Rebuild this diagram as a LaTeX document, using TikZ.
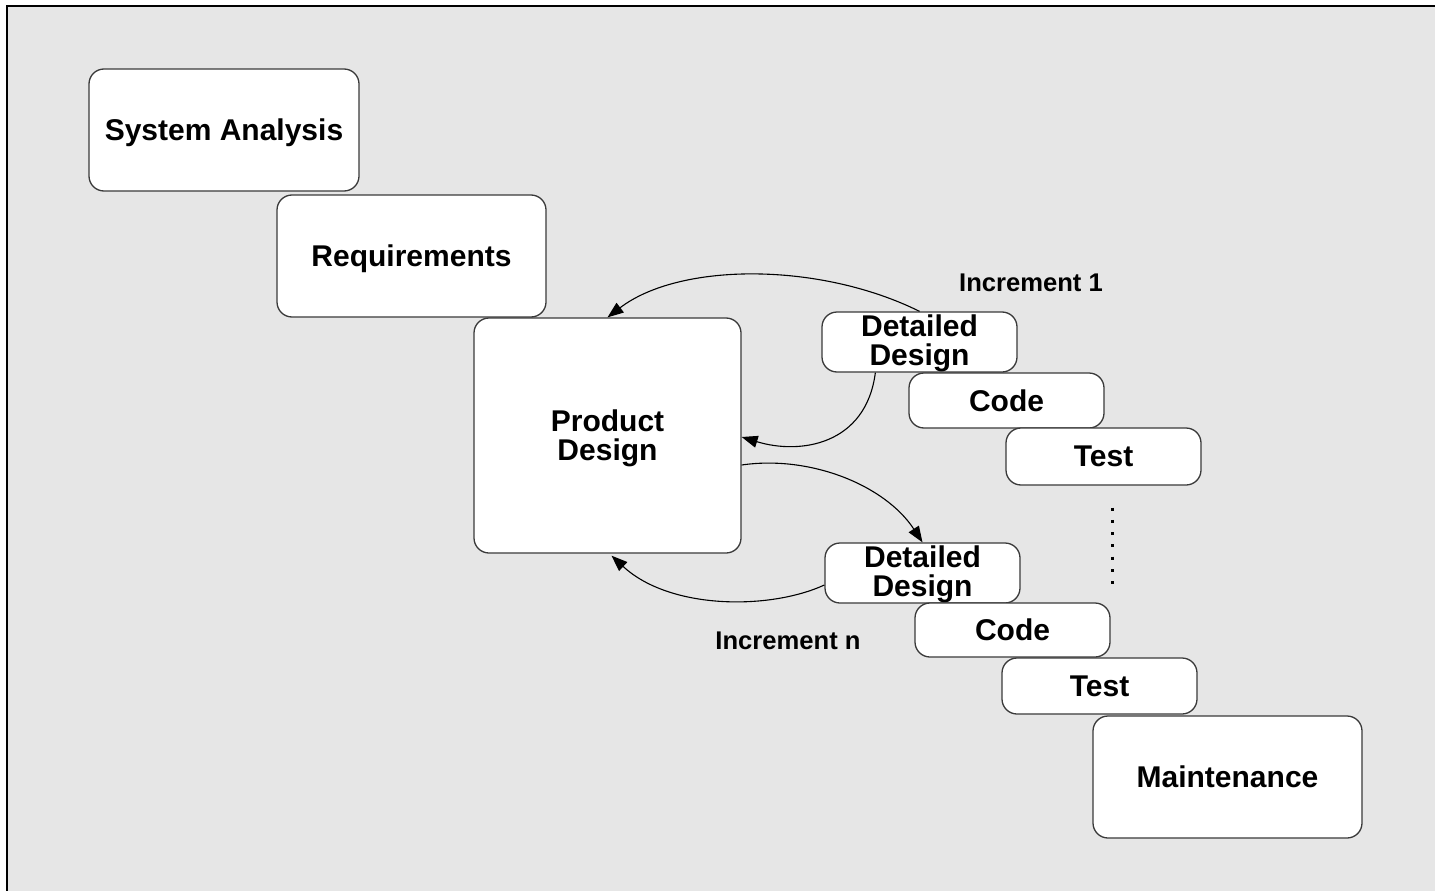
\documentclass[tikz,border=0pt]{standalone}
\usepackage{fontspec}
\setmainfont{Liberation Sans}
\usetikzlibrary{arrows.meta,calc}
\definecolor{bg}{HTML}{E6E6E6}
\definecolor{edge}{HTML}{3A3A3A}
\tikzset{
  phase/.style={draw=edge, line width=1.3pt, fill=white, rounded corners=15pt,
    inner sep=0pt, align=center, text depth=0pt,
    font=\fontsize{30}{29}\selectfont\bfseries},
  ddbox/.style={phase, text depth=4pt},
  lbl/.style={inner sep=0pt, font=\fontsize{25.6}{28}\selectfont\bfseries},
  flow/.style={draw=black, line width=1.1pt, -{Triangle[length=16pt,width=12pt]}}
}
\begin{document}
\begin{tikzpicture}[x=1pt,y=-1pt]
  \useasboundingbox (0,0) rectangle (1435,891);
  % canvas and frame
  \fill[bg] (7,6) rectangle (1435,891);
  \draw[line width=1.5pt] (7,891) -- (7,6) -- (1435,6);

  % phases
  \node[phase, minimum width=270pt, minimum height=122pt] (sa)  at (224,130)    {System Analysis};
  \node[phase, minimum width=269pt, minimum height=122pt] (req) at (411.5,256)  {Requirements};
  \node[phase, minimum width=267pt, minimum height=235pt] (pd)  at (607.5,435.5){Product\\Design};
  \node[ddbox, minimum width=195pt, minimum height=60pt]  (dd1) at (919.5,342)  {Detailed\\Design};
  \node[phase, minimum width=195pt, minimum height=55pt]  (c1)  at (1006.5,400.5){Code};
  \node[phase, minimum width=195pt, minimum height=57pt]  (t1)  at (1103.5,456.5){Test};
  \node[ddbox, minimum width=195pt, minimum height=60pt]  (ddn) at (922.5,573)  {Detailed\\Design};
  \node[phase, minimum width=195pt, minimum height=54pt]  (cn)  at (1012.5,630) {Code};
  \node[phase, minimum width=195pt, minimum height=56pt]  (tn)  at (1099.5,686) {Test};
  \node[phase, minimum width=269pt, minimum height=122pt] (mt)  at (1227.5,777) {Maintenance};

  % increment labels
  \node[lbl] (inc1) at (1031,283) {Increment 1};
  \node[lbl] (incn) at (788,641)  {Increment n};

  % ellipsis between the increments
  \coordinate (dotA) at (1112,507.5);
  \coordinate (dotB) at (1112,586);
  \draw[line width=3pt, dash pattern=on 3pt off 9.3pt] (dotA) -- (dotB);

  % feedback and feed-forward arrows
  \draw[flow] (dd1.north) .. controls (820,262) and (680,262) .. (pd.north);
  \draw[flow] ($(dd1.south west)+(54,0)$) .. controls (866,445) and (800,455) .. ($(pd.east)+(0,1.5)$);
  \draw[flow] ($(pd.east)+(0,29.5)$) .. controls (810,455) and (885,485) .. (ddn.north);
  \draw[flow] ($(ddn.west)+(0,12)$) .. controls (770,610) and (670,610) .. ($(pd.south)+(4,2)$);
\end{tikzpicture}
\end{document}
